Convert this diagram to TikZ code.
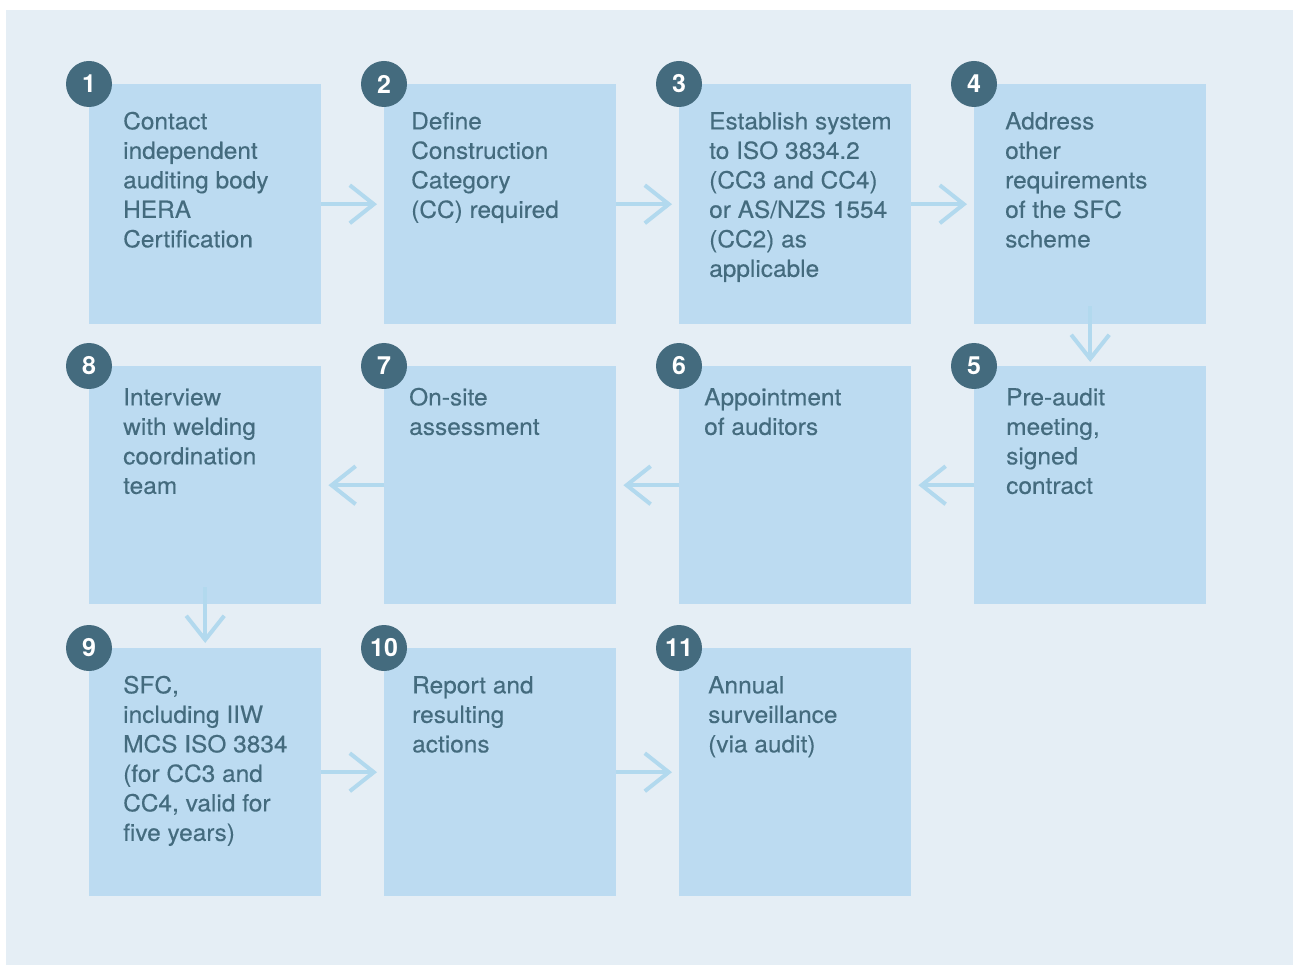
\documentclass[tikz,border=0pt]{standalone}
\usepackage{fontspec}
\setmainfont{TeX Gyre Heros}
\newfontfamily\bodyface[FakeStretch=1.04, FakeBold=0.3]{TeX Gyre Heros}
\usetikzlibrary{arrows.meta}
\definecolor{pagebg}{HTML}{E5EEF5}
\definecolor{boxblue}{HTML}{BCDBF1}
\definecolor{arrowblue}{HTML}{B2D9EE}
\definecolor{ink}{HTML}{446B7E}
\newcommand\bodyfont{\bodyface\fontsize{23.5}{29.5}\selectfont}
\tikzset{
  stage/.style={fill=boxblue, inner sep=0pt, minimum width=232pt, anchor=north west},
  num/.style={circle, fill=ink, text=white, inner sep=0pt, minimum size=46pt, font=\fontsize{25}{25}\selectfont\bfseries},
  txt/.style={anchor=north west, inner sep=0pt, align=left, text=ink, font=\bodyfont},
  flow/.style={draw=arrowblue, line width=4pt, -{Straight Barb[length=24pt, width=38pt]}}
}
\begin{document}
\begin{tikzpicture}[x=1pt, y=-1pt]
  \useasboundingbox (0,0) rectangle (1293,965);
  \fill[pagebg] (6,10) rectangle (1293,965);
  % row 1
  \node[stage, minimum height=240pt] (b1) at (89,84) {};
  \node[stage, minimum height=240pt] (b2) at (384,84) {};
  \node[stage, minimum height=240pt] (b3) at (679,84) {};
  \node[stage, minimum height=240pt] (b4) at (974,84) {};
  % row 2
  \node[stage, minimum height=238pt] (b8) at (89,366) {};
  \node[stage, minimum height=238pt] (b7) at (384,366) {};
  \node[stage, minimum height=238pt] (b6) at (679,366) {};
  \node[stage, minimum height=238pt] (b5) at (974,366) {};
  % row 3
  \node[stage, minimum height=248pt] (b9) at (89,648) {};
  \node[stage, minimum height=248pt] (b10) at (384,648) {};
  \node[stage, minimum height=248pt] (b11) at (679,648) {};

  \node[txt] (t1) at (123,108.5) {\strut Contact\\independent\\auditing body\\HERA\\Certification};
  \node[txt] (t2) at (411,108.5) {\strut Define\\Construction\\Category\\(CC) required};
  \node[txt] (t3) at (709,108.5) {\strut Establish system\\to ISO 3834.2\\(CC3 and CC4)\\or AS/NZS 1554\\(CC2) as\\applicable};
  \node[txt] (t4) at (1005,108.5) {\strut Address\\other\\requirements\\of the SFC\\scheme};
  \node[txt] (t8) at (123,384.5) {\strut Interview\\with welding\\coordination\\team};
  \node[txt] (t7) at (409,384.5) {\strut On-site\\assessment};
  \node[txt] (t6) at (704,384.5) {\strut Appointment\\of auditors};
  \node[txt] (t5) at (1006,384.5) {\strut Pre-audit\\meeting,\\signed\\contract};
  \node[txt] (t9) at (123,672.5) {\strut SFC,\\including IIW\\MCS ISO 3834\\(for CC3 and\\CC4, valid for\\five years)};
  \node[txt] (t10) at (412,672.5) {\strut Report and\\resulting\\actions};
  \node[txt] (t11) at (708,672.5) {\strut Annual\\surveillance\\(via audit)};

  \foreach \i in {1,...,11}
    \node[num] (n\i) at (b\i.north west) {\i};

  % connectors
  \draw[flow] (b1.east) -- ([xshift=-7pt]b2.west);
  \draw[flow] (b2.east) -- ([xshift=-7pt]b3.west);
  \draw[flow] (b3.east) -- ([xshift=-7pt]b4.west);
  \draw[flow, shorten <=-18pt] (b4.south) -- ([yshift=4pt]b5.north);
  \draw[flow] (b5.west) -- ([xshift=7pt]b6.east);
  \draw[flow] (b6.west) -- ([xshift=7pt]b7.east);
  \draw[flow] (b7.west) -- ([xshift=7pt]b8.east);
  \draw[flow, shorten <=-17pt] (b8.south) -- ([yshift=5pt]b9.north);
  \draw[flow] (b9.east) -- ([xshift=-7pt]b10.west);
  \draw[flow] (b10.east) -- ([xshift=-7pt]b11.west);
\end{tikzpicture}
\end{document}
